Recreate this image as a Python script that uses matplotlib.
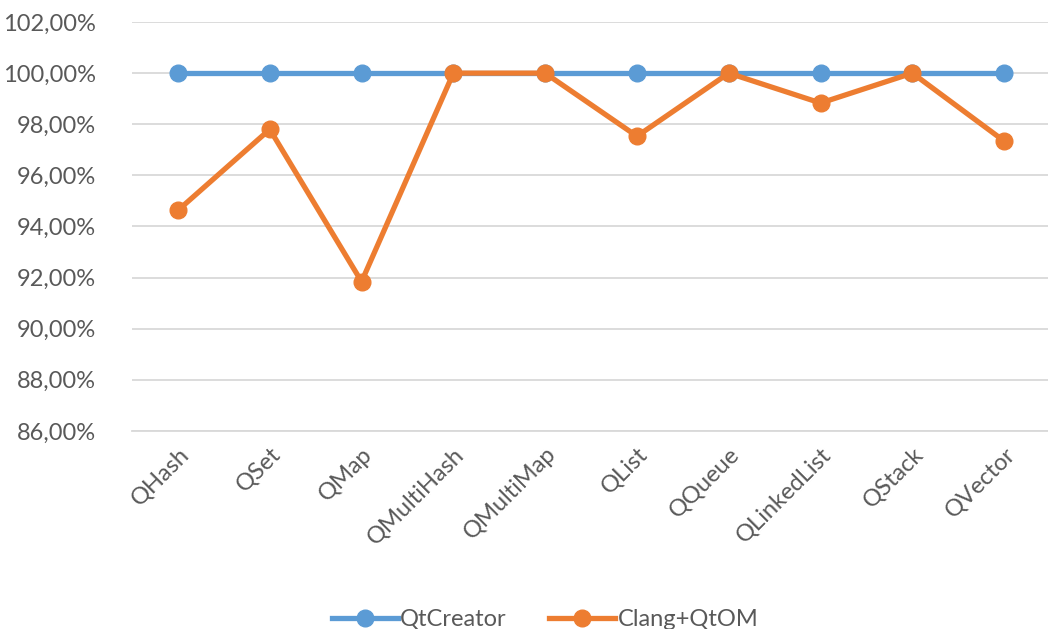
import matplotlib.pyplot as plt
from matplotlib.ticker import FuncFormatter

plt.rcParams['font.family'] = ['Lato', 'DejaVu Sans']

categories = ['QHash', 'QSet', 'QMap', 'QMultiHash', 'QMultiMap', 'QList',
              'QQueue', 'QLinkedList', 'QStack', 'QVector']
qtcreator = [100.0, 100.0, 100.0, 100.0, 100.0, 100.0, 100.0, 100.0, 100.0, 100.0]
clang_qtom = [94.63, 97.80, 91.84, 100.0, 100.0, 97.53, 100.0, 98.83, 100.0, 97.34]

text_color = '#595959'

fig = plt.figure(figsize=(10.48, 6.29), dpi=100)
ax = fig.add_axes([0.126, 0.315, 0.876, 0.650])

x = range(len(categories))
ax.plot(x, qtcreator, '-o', color='#5B9BD5', lw=3.8, ms=12, label='QtCreator', zorder=3)
ax.plot(x, clang_qtom, '-o', color='#ED7D31', lw=3.8, ms=12, label='Clang+QtOM', zorder=4)

ax.set_xlim(-0.5, len(categories) - 0.5)
ax.set_ylim(86, 102)
ax.set_yticks(range(86, 103, 2))
ax.yaxis.set_major_formatter(FuncFormatter(lambda v, p: f'{v:.2f}%'.replace('.', ',')))
ax.set_xticks(list(x))
ax.set_xticklabels(categories, rotation=45, ha='right', rotation_mode='anchor')

ax.grid(axis='y', color='#D9D9D9', lw=1.3)
ax.set_axisbelow(True)
for s in ax.spines.values():
    s.set_visible(False)
ax.spines['bottom'].set_visible(True)
ax.spines['bottom'].set_color('#D9D9D9')
ax.spines['bottom'].set_linewidth(1.3)
ax.tick_params(length=0, labelsize=17, labelcolor=text_color)
ax.tick_params(axis='y', pad=26)
ax.tick_params(axis='x', pad=9)

fig.legend(loc='lower center', bbox_to_anchor=(0.52, -0.035), ncol=2, frameon=False,
           fontsize=17, labelcolor=text_color, handlelength=2.8, handletextpad=0.1,
           columnspacing=1.8)

fig.savefig('out.png', dpi=100)
